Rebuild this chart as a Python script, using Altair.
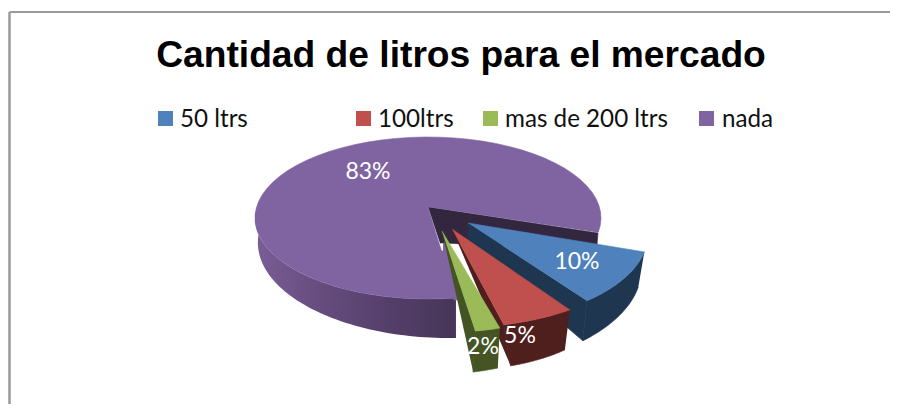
import math
import altair as alt

TITLE = "Cantidad de litros para el mercado"
CATEGORIES = ["50 ltrs", "100ltrs", "mas de 200 ltrs", "nada"]
SHARES = [10, 5, 2, 83]

# colours
TOP_COLORS = ["#4F81BD", "#C0504D", "#9BBB59", "#8064A2"]
WALL_COLORS = ["#1F3651", "#4F1F1D", "#445423", "#4B3760"]
INNER_DARK = "#33263F"
FRAME = "#9A9A9A"

# page-pixel style layout of the pseudo-3D pie (perspective)
LAYOUT = [
    dict(apex=(468, 223), c=(468, 234), a=180, b=89, start=11.6, stretch=1.03, o0=(-6, 35), o1=(-4, 40), drop=20),
    dict(apex=(452, 229), c=(452, 240), a=194, b=88, start=52.6, stretch=1.22, o0=(-5, 40), o1=(7, 41), drop=0),
    dict(apex=(442, 231), c=(442, 242), a=187, b=90.5, start=72.0, stretch=1.08, o0=(-2, 40), o1=(-2, 41), drop=0),
    dict(apex=(428, 207), c=(428, 218), a=173, b=81, start=80.7, stretch=0.969, o0=(0, 40), o1=(0, 40), drop=0),
]
LABEL_POS = [(577, 262), (520, 336), (483, 347), (368, 172)]
LEGEND_SQ = [165.5, 363.5, 490.5, 706.5]
LEGEND_TX = [180, 378, 505, 722]

W, H = 882, 396
X = alt.X("x:Q", scale=alt.Scale(domain=[8, 8 + W], nice=False, zero=False), axis=None)
Y = alt.Y("y:Q", scale=alt.Scale(domain=[8 + H, 8], nice=False, zero=False), axis=None)


def arc(s, a0, a1, n=60):
    pts = []
    for k in range(n + 1):
        t = math.radians(a0 + (a1 - a0) * k / n)
        pts.append((s["c"][0] + s["a"] * math.cos(t), s["c"][1] + s["b"] * math.sin(t)))
    return pts


def poly(pts, fill, stroke=True):
    vals = [{"x": p[0], "y": p[1], "i": i} for i, p in enumerate(pts)]
    kw = dict(fill=fill, strokeWidth=0.6, stroke=fill if stroke else "transparent")
    return alt.Chart(alt.Data(values=vals)).mark_line(**kw).encode(x=X, y=Y, order=alt.Order("i:Q"))


layers = []

# frame: only top and left edges are visible
layers.append(poly([(9.5, 8 + H), (9.5, 12)], "transparent", False).mark_line(stroke=FRAME, strokeWidth=2.5))
layers.append(poly([(9.5, 12), (8 + W, 12)], "transparent", False).mark_line(stroke=FRAME, strokeWidth=2))

# purple wall with a dark gradient
p = LAYOUT[3]
end_p = p["start"] + SHARES[3] * 3.6 * p["stretch"]
wall_top = arc(p, p["start"], 185)
wall_bot = []
for k, pt in enumerate(wall_top):
    f = k / (len(wall_top) - 1)
    wall_bot.append((pt[0] + 3 * f, pt[1] + 40 - 17 * f))
grad = alt.Gradient(
    gradient="linear", x1=1, x2=0, y1=0, y2=0,
    stops=[
        alt.GradientStop(color="#463558", offset=0),
        alt.GradientStop(color="#553F6B", offset=0.35),
        alt.GradientStop(color="#6A5083", offset=0.75),
        alt.GradientStop(color="#7A5E97", offset=1),
    ],
)
layers.append(poly(wall_top + wall_bot[::-1], grad, False))

# dark inner faces behind the exploded slices
layers.append(poly([p["apex"], (598, 233), (597, 245), (480, 245), (445, 243), (440, 243)], INNER_DARK))
# purple top
layers.append(poly([p["apex"]] + arc(p, p["start"], end_p), TOP_COLORS[3]))
layers.append(poly([(443, 243), (448, 243), (450, 251), (460, 300), (454, 300), (440, 251), (443, 251)], TOP_COLORS[3]))

# exploded slices, back to front
for idx in (0, 1, 2):
    s = LAYOUT[idx]
    a0 = s["start"]
    a1 = a0 + SHARES[idx] * 3.6 * s["stretch"]
    top = arc(s, a0, a1, 30)
    bot = []
    for k, pt in enumerate(top):
        f = k / (len(top) - 1)
        bot.append((pt[0] + s["o0"][0] + (s["o1"][0] - s["o0"][0]) * f,
                    pt[1] + s["o0"][1] + (s["o1"][1] - s["o0"][1]) * f))
    layers.append(poly(top + bot[::-1], WALL_COLORS[idx]))
    cut = [s["apex"], top[-1], bot[-1]]
    if s["drop"]:
        cut.append((s["apex"][0], s["apex"][1] + s["drop"]))
    layers.append(poly(cut, WALL_COLORS[idx]))
    layers.append(poly([s["apex"]] + top, TOP_COLORS[idx]))

# slice labels
lab = [{"x": q[0], "y": q[1], "t": f"{v}%"} for q, v in zip(LABEL_POS, SHARES)]
layers.append(
    alt.Chart(alt.Data(values=lab))
    .mark_text(font="Lato", fontSize=23, color="white", align="center", baseline="middle")
    .encode(x=X, y=Y, text="t:N")
)

# title
layers.append(
    alt.Chart(alt.Data(values=[{"x": 461, "y": 67, "t": TITLE}]))
    .mark_text(font="Liberation Sans", fontWeight="bold", fontSize=37.2, color="black", align="center", baseline="alphabetic")
    .encode(x=X, y=Y, text="t:N")
)

# legend
sq = [{"x": x, "y": 118.5, "c": c} for x, c in zip(LEGEND_SQ, TOP_COLORS)]
layers.append(
    alt.Chart(alt.Data(values=sq))
    .mark_point(shape="square", filled=True, size=225, opacity=1)
    .encode(x=X, y=Y, color=alt.Color("c:N", scale=None))
)
tx = [{"x": x, "y": 127, "t": t} for x, t in zip(LEGEND_TX, CATEGORIES)]
layers.append(
    alt.Chart(alt.Data(values=tx))
    .mark_text(font="Lato", fontSize=24.2, color="#111111", align="left", baseline="alphabetic")
    .encode(x=X, y=Y, text="t:N")
)

chart = (
    alt.layer(*layers)
    .properties(width=W, height=H, padding=0, background="white", autosize=alt.AutoSizeParams(type="none"))
    .configure_view(stroke=None)
)
chart.save("out.html", embed_options={"renderer": "svg", "actions": False})
